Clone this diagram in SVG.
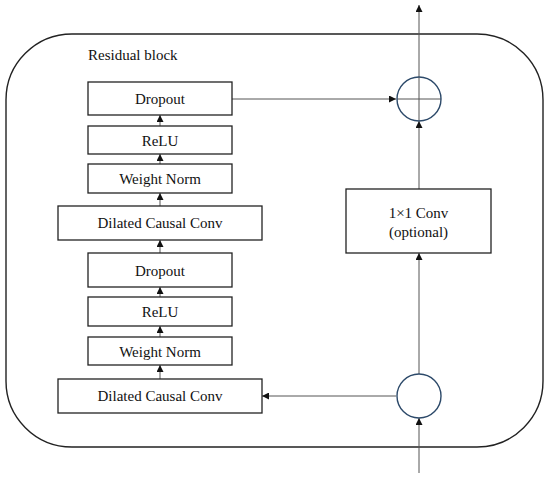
<svg xmlns="http://www.w3.org/2000/svg" width="550" height="480" viewBox="0 0 550 480">
<defs>
<marker id="ah" viewBox="0 0 10 10" refX="10" refY="5" markerWidth="7" markerHeight="7" markerUnits="userSpaceOnUse" orient="auto">
<path d="M0,0 L10,5 L0,10 z" fill="#111"/>
</marker>
<style>
.box{fill:#fff;stroke:#222;stroke-width:1.3}
.t{font-family:"Liberation Serif","Times New Roman",serif;font-size:15px;fill:#111;text-anchor:middle}
.c{stroke:#555;stroke-width:1;fill:none}
.circ{fill:none;stroke:#2d4a6a;stroke-width:1.4}
</style>
</defs>
<rect width="550" height="480" fill="#fff"/>
<rect id="block" x="6" y="34" width="537" height="413" rx="66" ry="66" fill="none" stroke="#222" stroke-width="1.4"/>
<text x="88" y="60" class="t" style="text-anchor:start">Residual block</text>

<g id="connectors">
<line class="c" x1="160" y1="379" x2="160" y2="365" marker-end="url(#ah)"/>
<line class="c" x1="160" y1="337" x2="160" y2="326" marker-end="url(#ah)"/>
<line class="c" x1="160" y1="297" x2="160" y2="287" marker-end="url(#ah)"/>
<line class="c" x1="160" y1="253" x2="160" y2="240" marker-end="url(#ah)"/>
<line class="c" x1="160" y1="206" x2="160" y2="193" marker-end="url(#ah)"/>
<line class="c" x1="160" y1="164" x2="160" y2="154" marker-end="url(#ah)"/>
<line class="c" x1="160" y1="126" x2="160" y2="115" marker-end="url(#ah)"/>
<line class="c" x1="232" y1="99" x2="396" y2="99" marker-end="url(#ah)"/>
<line class="c" x1="396" y1="396" x2="262" y2="396" marker-end="url(#ah)"/>
<line class="c" x1="419" y1="473" x2="419" y2="418" marker-end="url(#ah)"/>
<line class="c" x1="419" y1="374" x2="419" y2="253" marker-end="url(#ah)"/>
<line class="c" x1="419" y1="189" x2="419" y2="121" marker-end="url(#ah)"/>
<line class="c" x1="419" y1="121" x2="419" y2="5" marker-end="url(#ah)"/>
<line class="c" x1="397" y1="99" x2="441" y2="99"/>
</g>

<g id="dropout2"><rect class="box" x="88" y="82" width="144" height="33"/><text class="t" x="160" y="104">Dropout</text></g>
<g id="relu2"><rect class="box" x="88" y="126" width="144" height="28"/><text class="t" x="160" y="145.5">ReLU</text></g>
<g id="wnorm2"><rect class="box" x="88" y="164" width="144" height="29"/><text class="t" x="160" y="184">Weight Norm</text></g>
<g id="dconv2"><rect class="box" x="58" y="206" width="204" height="34"/><text class="t" x="160" y="228">Dilated Causal Conv</text></g>
<g id="dropout1"><rect class="box" x="88" y="253" width="144" height="34"/><text class="t" x="160" y="275.5">Dropout</text></g>
<g id="relu1"><rect class="box" x="88" y="297" width="144" height="29"/><text class="t" x="160" y="317">ReLU</text></g>
<g id="wnorm1"><rect class="box" x="88" y="337" width="144" height="28"/><text class="t" x="160" y="356.5">Weight Norm</text></g>
<g id="dconv1"><rect class="box" x="58" y="379" width="204" height="34"/><text class="t" x="160" y="401">Dilated Causal Conv</text></g>
<g id="conv1x1"><rect class="box" x="346" y="189" width="145" height="64"/><text class="t" x="418.5" y="218">1×1 Conv</text><text class="t" x="418.5" y="237">(optional)</text></g>
<g id="add"><circle class="circ" cx="419" cy="99" r="22"/></g>
<g id="split"><circle class="circ" cx="419" cy="396" r="22" fill="#fff"/></g>
</svg>
